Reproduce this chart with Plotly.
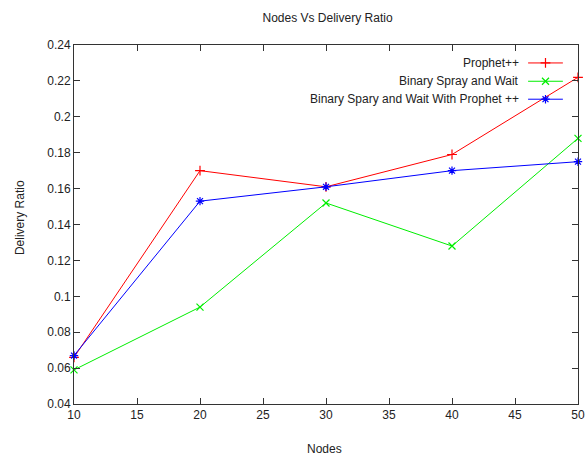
import plotly.graph_objects as go

# Network simulation results: delivery ratio by number of nodes
nodes = [10, 20, 30, 40, 50]
prophet_pp = [0.066, 0.170, 0.161, 0.179, 0.222]
binary_spray_wait = [0.059, 0.094, 0.152, 0.128, 0.188]
binary_spray_wait_prophet = [0.067, 0.153, 0.161, 0.170, 0.175]

series_names = ["Prophet++", "Binary Spray and Wait", "Binary Spary and Wait With Prophet ++"]
series_colors = ["#ff0000", "#00ee00", "#0000ff"]
series_symbols = ["cross-thin", "x-thin", "asterisk"]
x_ticks = [10, 15, 20, 25, 30, 35, 40, 45, 50]
y_ticks = [0.04, 0.06, 0.08, 0.1, 0.12, 0.14, 0.16, 0.18, 0.2, 0.22, 0.24]

FONT = "Liberation Sans Narrow, Arial Narrow, Liberation Sans, sans-serif"
FS = 12
TXT = dict(family=FONT, size=FS, color="#222")

fig = go.Figure()
all_series = [prophet_pp, binary_spray_wait, binary_spray_wait_prophet]
for vals, name, col, sym in zip(all_series, series_names, series_colors, series_symbols):
    fig.add_trace(go.Scatter(
        x=nodes, y=vals, name=name, mode="lines+markers",
        line=dict(color=col, width=1),
        marker=dict(symbol=sym, size=7, color=col, line=dict(color=col, width=1.2)),
        showlegend=False, cliponaxis=False,
    ))

# Key in the upper right corner: label, then a line sample with its marker
row_y = [0.950, 0.899, 0.849]
for name, col, sym, ry in zip(series_names, series_colors, series_symbols, row_y):
    fig.add_trace(go.Scatter(
        x=[0.901, 0.970], y=[ry, ry], xaxis="x2", yaxis="y2", mode="lines",
        line=dict(color=col, width=1), showlegend=False, hoverinfo="skip",
    ))
    fig.add_trace(go.Scatter(
        x=[0.9355], y=[ry], xaxis="x2", yaxis="y2", mode="markers",
        marker=dict(symbol=sym, size=7, color=col, line=dict(color=col, width=1.2)),
        showlegend=False, hoverinfo="skip",
    ))
    fig.add_annotation(
        x=0.887, y=ry, xref="paper", yref="paper", text=name, showarrow=False,
        xanchor="right", yanchor="middle", font=TXT,
    )

# Axis titles
fig.add_annotation(x=0.498, y=-0.125, xref="paper", yref="paper", text="Nodes",
                   showarrow=False, xanchor="center", yanchor="middle", font=TXT)
fig.add_annotation(x=-0.107, y=0.518, xref="paper", yref="paper", text="Delivery Ratio",
                   showarrow=False, xanchor="center", yanchor="middle", textangle=-90, font=TXT)

axis_common = dict(
    showgrid=False, zeroline=False, showline=True, linecolor="#333", linewidth=1,
    mirror="allticks", ticks="inside", ticklen=6, tickcolor="#333", tickwidth=1,
    tickfont=TXT, automargin=False,
)

fig.update_layout(
    width=587, height=456,
    margin=dict(l=74, r=9, t=45, b=52, autoexpand=False),
    paper_bgcolor="white", plot_bgcolor="white",
    title=dict(text="Nodes Vs Delivery Ratio", x=0.558, xanchor="center", y=0.96, yanchor="middle",
               font=TXT),
    xaxis=dict(range=[10, 50], tickvals=x_ticks, ticktext=[str(v) for v in x_ticks], **axis_common),
    yaxis=dict(range=[0.04, 0.24], tickvals=y_ticks, ticktext=[f"{v:g}" for v in y_ticks], **axis_common),
    xaxis2=dict(overlaying="x", range=[0, 1], visible=False),
    yaxis2=dict(overlaying="y", range=[0, 1], visible=False),
    showlegend=False,
)

fig.write_html("out.html")
